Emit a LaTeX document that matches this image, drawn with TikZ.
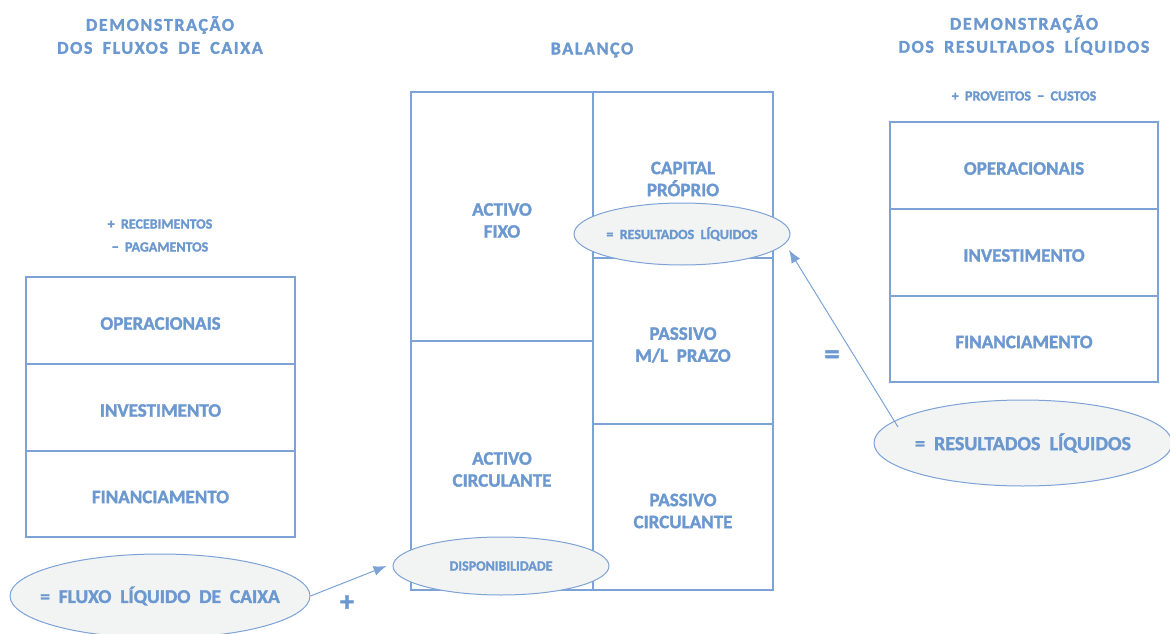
\documentclass[tikz,border=0pt]{standalone}
\usepackage{fontspec}
\setmainfont{Carlito}[BoldFont={Carlito Bold},BoldFeatures={FakeBold=1.6},WordSpace=2.0]
\newfontfamily\ttlfont{Carlito}[BoldFont={Carlito Bold},BoldFeatures={FakeBold=1.6},LetterSpace=9,WordSpace=1.8]
\usetikzlibrary{shapes.geometric,arrows.meta}
\definecolor{tb}{RGB}{108,152,208}
\definecolor{lb}{RGB}{125,162,214}
\definecolor{ef}{RGB}{242,243,243}
\newcommand\bxf{\fontsize{19}{22}\selectfont\bfseries}
\newcommand\ttf{\ttlfont\fontsize{18}{23}\selectfont\bfseries}
\newcommand\smf{\fontsize{14}{23}\selectfont\bfseries}
\tikzset{
  cell/.style={draw=lb,line width=1.3pt,rectangle,inner sep=0pt},
  ell/.style={draw=lb,fill=ef,ellipse,line width=1pt,inner sep=0pt},
  lab/.style={text=tb,inner sep=0pt,align=center},
  arr/.style={draw=lb,line width=1pt,-{Latex[length=13pt,width=10pt]}}
}
\begin{document}
\begin{tikzpicture}[x=1pt,y=-1pt]
\useasboundingbox (0,0) rectangle (1170,634);
% titles
\node[lab,font=\ttf] (t1) at (160,35) {DEMONSTRAÇÃO\\DOS FLUXOS DE CAIXA};
\node[lab,font=\ttf] (t2) at (592,50) {BALANÇO};
\node[lab,font=\ttf] (t3) at (1024,35) {DEMONSTRAÇÃO\\DOS RESULTADOS LÍQUIDOS};
\node[lab,font=\smf] (s1) at (160,224) {+ RECEBIMENTOS};
\node[lab,font=\smf] (s2) at (160,247) {− PAGAMENTOS};
\node[lab,font=\smf] (s3) at (1024,96) {+ PROVEITOS − CUSTOS};
% left column
\node[cell,minimum width=269pt,minimum height=87pt,label={[lab,font=\bxf,yshift=-3pt]center:OPERACIONAIS}] (l1) at (160.5,320.5) {};
\node[cell,minimum width=269pt,minimum height=87pt,label={[lab,font=\bxf,yshift=-3pt]center:INVESTIMENTO}] (l2) at (160.5,407.5) {};
\node[cell,minimum width=269pt,minimum height=86pt,label={[lab,font=\bxf,yshift=-3pt]center:FINANCIAMENTO}] (l3) at (160.5,494) {};
% right column
\node[cell,minimum width=268pt,minimum height=87pt,label={[lab,font=\bxf,yshift=-3pt]center:OPERACIONAIS}] (r1) at (1024,165.5) {};
\node[cell,minimum width=268pt,minimum height=87pt,label={[lab,font=\bxf,yshift=-3pt]center:INVESTIMENTO}] (r2) at (1024,252.5) {};
\node[cell,minimum width=268pt,minimum height=86pt,label={[lab,font=\bxf,yshift=-3pt]center:FINANCIAMENTO}] (r3) at (1024,339) {};
% balance
\node[cell,minimum width=182pt,minimum height=249pt,label={[lab,font=\bxf,yshift=-4pt]center:ACTIVO\\FIXO}] (af) at (502,216.5) {};
\node[cell,minimum width=182pt,minimum height=249pt,label={[lab,font=\bxf,yshift=-4pt]center:ACTIVO\\CIRCULANTE}] (ac) at (502,465.5) {};
\node[cell,minimum width=180pt,minimum height=166pt,label={[lab,font=\bxf,yshift=-4pt]center:CAPITAL\\PRÓPRIO}] (cp) at (683,175) {};
\node[cell,minimum width=180pt,minimum height=166pt,label={[lab,font=\bxf,yshift=-4pt]center:PASSIVO\\M/L PRAZO}] (pm) at (683,341) {};
\node[cell,minimum width=180pt,minimum height=166pt,label={[lab,font=\bxf,yshift=-4pt]center:PASSIVO\\CIRCULANTE}] (pc) at (683,507) {};
% ellipses
\node[ell,minimum width=216pt,minimum height=62pt,label={[lab,font=\fontsize{14}{16}\selectfont\bfseries]center:= RESULTADOS LÍQUIDOS}] (res) at (682,234) {};
\node[ell,minimum width=216pt,minimum height=58pt,label={[lab,font=\fontsize{14}{16}\selectfont\bfseries]center:DISPONIBILIDADE}] (disp) at (501,566) {};
\node[ell,minimum width=300pt,minimum height=84pt,label={[lab,font=\fontsize{19.5}{22}\selectfont\bfseries]center:= FLUXO LÍQUIDO DE CAIXA}] (flc) at (160,596) {};
\node[ell,minimum width=298pt,minimum height=86pt,label={[lab,font=\fontsize{20}{22}\selectfont\bfseries]center:= RESULTADOS LÍQUIDOS}] (rl) at (1023,443) {};
% symbols
\node[lab,font=\fontsize{30}{30}\selectfont\bfseries] (eq) at (832,357) {=};
\node[lab,font=\fontsize{28}{28}\selectfont\bfseries] (pl) at (347,603) {+};
% arrows
\coordinate (rs) at (898,427);
\coordinate (rt) at (789,250);
\draw[arr] (flc.east) -- ([xshift=-6pt]disp.west);
\draw[arr] (rs) -- (rt);
\end{tikzpicture}
\end{document}
